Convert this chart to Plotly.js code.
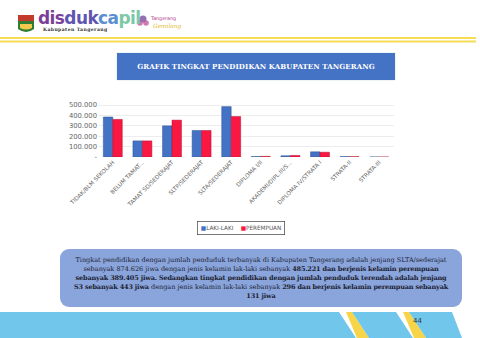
<!DOCTYPE html>
<html><head><meta charset="utf-8">
<script src="https://cdn.plot.ly/plotly-3.0.1.min.js"></script>
<style>
html,body{margin:0;padding:0;width:480px;height:338px;overflow:hidden;background:#fff;font-family:"DejaVu Sans",sans-serif;}
#page{position:relative;width:480px;height:338px;}
.abs{position:absolute;}
#banner{left:117px;top:53px;width:278px;height:27px;background:#4472c4;color:#fff;font:bold 7px "DejaVu Serif",serif;display:flex;align-items:center;justify-content:center;letter-spacing:0.1px;box-shadow:0 0 1px #9bb;}
#chart{left:50px;top:95px;width:350px;height:145px;}
#note{left:60px;top:249px;width:402px;height:58px;background:#8aa4dc;border-radius:9px;color:#1c2230;font:6.5px/9px "DejaVu Serif",serif;text-align:center;display:flex;align-items:center;justify-content:center;white-space:nowrap;}
#note b{font-weight:bold;letter-spacing:-0.15px;}
</style></head>
<body><div id="page">
<svg class="abs" style="left:0;top:0" width="480" height="338">
  <!-- header emblem -->
  <rect x="18" y="15" width="16" height="6" fill="#c23b2b"/>
  <path d="M18 21 h16 v8 q-8 6 -16 0 z" fill="#2e7d32"/>
  <path d="M20 24 h12 v4 q-6 3 -12 0 z" fill="#f2c94c"/>
  <!-- tangerang gemilang logo -->
  <circle cx="143" cy="19" r="3.5" fill="#7a4b9c" opacity="0.8"/>
  <circle cx="140" cy="23" r="2.8" fill="#c05aa0" opacity="0.8"/>
  <circle cx="146" cy="23" r="2.8" fill="#c05aa0" opacity="0.8"/>
  <text x="151" y="20" font-size="4.8" fill="#b03a8a" font-family="DejaVu Sans">Tangerang</text>
  <text x="153" y="28" font-size="5.8" fill="#e0b830" font-style="italic" font-family="DejaVu Serif">Gemilang</text>
  <!-- yellow lines -->
  <rect x="0" y="37" width="476" height="2" fill="#f7dc57"/>
  <rect x="0" y="40.5" width="476" height="2" fill="#f7dc57"/>
  <!-- bottom band -->
  <path d="M0 312 H339 L356 338 H0 Z" fill="#70c6eb"/>
  <path d="M346 312 L352 312 L369 338 L357 338 Z" fill="#f8d548"/>
  <path d="M352 312 H396 L413 338 H369 Z" fill="#70c6eb"/>
  <path d="M403 312 L409 312 L426 338 L414 338 Z" fill="#f8d548"/>
  <path d="M409 312 H452 L462 338 H426 Z" fill="#70c6eb"/>
  <text x="413" y="323" font-size="7" fill="#333" font-family="DejaVu Sans">44</text>
</svg>
<div class="abs" style="left:38px;top:9px;font:bold 17px/18px 'DejaVu Sans',sans-serif;letter-spacing:-0.6px;">
  <span style="color:#7b3f98">dis</span><span style="color:#5f55b2">duk</span><span style="color:#5a8fd2">ca</span><span style="color:#7cc8a8">pil</span>
</div>
<div class="abs" style="left:43px;top:27px;font:bold 4.6px 'DejaVu Serif',serif;color:#333;letter-spacing:0.4px;">Kabupaten Tangerang</div>
<div id="banner" class="abs">GRAFIK TINGKAT PENDIDIKAN KABUPATEN TANGERANG</div>
<div id="chart" class="abs"></div>
<div id="note" class="abs"><div>Tingkat pendidikan dengan jumlah penduduk terbanyak di Kabupaten Tangerang adalah jenjang SLTA/sederajat<br>sebanyak 874.626 jiwa dengan jenis kelamin lak-laki sebanyak <b>485.221 dan berjenis kelamin perempuan</b><br><b>sebanyak 389.405 jiwa. Sedangkan tingkat pendidikan dengan jumlah penduduk terendah adalah jenjang</b><br><b>S3 sebanyak 443 jiwa</b> dengan jenis kelamin lak-laki sebanyak <b>296 dan berjenis kelamin perempuan sebanyak</b><br><b>131 jiwa</b></div></div>
</div>
<script>
const categories = ["TIDAK/BLM SEKOLAH","BELUM TAMAT...","TAMAT SD/SEDERAJAT","SLTP/SEDERAJAT","SLTA/SEDERAJAT","DIPLOMA I/II","AKADEMI/DIPL.III/S...","DIPLOMA IV/STRATA I","STRATA-II","STRATA-III"];
const lakiLaki = [385000, 155000, 300000, 255000, 485221, 5000, 12000, 50000, 4000, 296];
const perempuan = [362000, 155000, 355000, 255000, 389405, 6000, 15000, 46000, 3000, 131];
const tickVals = [0, 100000, 200000, 300000, 400000, 500000];
const tickText = ["-", "100.000", "200.000", "300.000", "400.000", "500.000"];
const seriesNames = ["LAKI-LAKI", "PEREMPUAN"];
const seriesColors = ["#4472c4", "#fa1843"];

const traces = [
  {type:'bar', name:seriesNames[0], x:categories, y:lakiLaki, marker:{color:seriesColors[0], line:{color:'#2f5597', width:0.5}}},
  {type:'bar', name:seriesNames[1], x:categories, y:perempuan, marker:{color:seriesColors[1], line:{color:'#b0102e', width:0.5}}}
];
const legendText = seriesNames.map((n,i)=>`<span style="color:${seriesColors[i]}">■</span>${n}`).join('    ');
const layout = {
  width:350, height:145,
  margin:{l:48, r:6, t:8, b:83},
  paper_bgcolor:'rgba(0,0,0,0)', plot_bgcolor:'rgba(0,0,0,0)',
  barmode:'group', bargap:0.36, bargroupgap:0,
  font:{family:'DejaVu Sans, sans-serif', size:5.5, color:'#666'},
  xaxis:{tickangle:-45, tickfont:{size:5.7, color:'#666'}, showline:false, ticks:'', automargin:false},
  yaxis:{range:[0, 520000], tickvals:tickVals, ticktext:tickText, tickfont:{size:6.8, color:'#666'}, gridcolor:'#e6e6e6', gridwidth:0.7, zeroline:false, automargin:false},
  showlegend:false,
  annotations:[{xref:'paper', yref:'paper', x:0.483, y:-1.31, xanchor:'center', yanchor:'middle', text:legendText, showarrow:false, font:{size:5.7, color:'#555'}, bordercolor:'#555', borderwidth:0.8, borderpad:3, bgcolor:'#fff'}]
};
Plotly.newPlot('chart', traces, layout, {displayModeBar:false, staticPlot:true});
</script>
</body></html>
